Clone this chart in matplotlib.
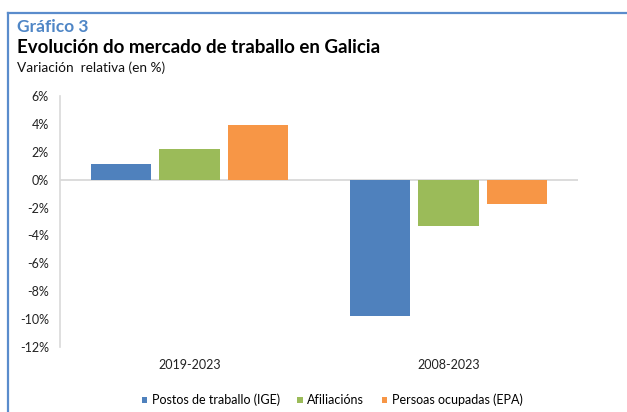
import numpy as np
import matplotlib
matplotlib.use("Agg")
import matplotlib.pyplot as plt
from matplotlib.lines import Line2D
from matplotlib.ticker import FuncFormatter

# data (variación relativa, %)
periods = ["2019-2023", "2008-2023"]
series = ["Postos de traballo (IGE)", "Afiliacións", "Persoas ocupadas (EPA)"]
postos = [1.15, -9.8]
afiliacions = [2.2, -3.35]
ocupadas = [3.95, -1.75]
colors = ["#4f81bd", "#9bbb59", "#f79646"]

plt.rcParams["font.family"] = ["Lato", "DejaVu Sans"]

fig = plt.figure(figsize=(6.27, 4.12), dpi=100)
ax = fig.add_axes([0.0957, 0.158, 0.8262, 0.609])

x = np.arange(len(periods))
w = 0.232
step = 0.266
for k, (vals, lab, col) in enumerate(zip([postos, afiliacions, ocupadas], series, colors)):
    ax.bar(x + (k - 1) * step, vals, width=w, color=col, label=lab, zorder=3)

ax.set_xlim(-0.5, 1.5)
ax.set_ylim(-12, 6)
ax.set_yticks(np.arange(-12, 7, 2))
ax.yaxis.set_major_formatter(FuncFormatter(lambda v, p: f"{v:.0f}%"))
ax.set_xticks(x)
ax.set_xticklabels(periods)
ax.axhline(0, color="#d9d9d9", lw=1.3, zorder=2)

for s in ["top", "right", "bottom"]:
    ax.spines[s].set_visible(False)
ax.spines["left"].set_color("#d9d9d9")
ax.spines["left"].set_linewidth(1.2)
ax.tick_params(axis="both", length=0, labelsize=9, colors="#222222")
ax.tick_params(axis="y", pad=8)
ax.tick_params(axis="x", pad=9)

ax.legend(loc="center", bbox_to_anchor=(0.525, -0.212), ncol=3,
          frameon=False, fontsize=9, handlelength=0.45, handleheight=0.45,
          handletextpad=0.35, columnspacing=1.4)

# blue frame around the chart (top and left)
fig.add_artist(Line2D([0.013, 0.013], [0.0, 0.968], transform=fig.transFigure,
                      color="#5a8ccc", lw=1.6))
fig.add_artist(Line2D([0.013, 1.0], [0.968, 0.968], transform=fig.transFigure,
                      color="#5a8ccc", lw=1.6))

fig.text(0.027, 0.935, "Gráfico 3", color="#4f86c6", fontsize=12.5,
         fontweight="bold", va="center")
fig.text(0.027, 0.885, "Evolución do mercado de traballo en Galicia", color="black",
         fontsize=13.5, fontweight="bold", va="center")
fig.text(0.027, 0.836, "Variación  relativa (en %)", color="#111111",
         fontsize=9.8, va="center")

fig.savefig("out.png", dpi=100)
